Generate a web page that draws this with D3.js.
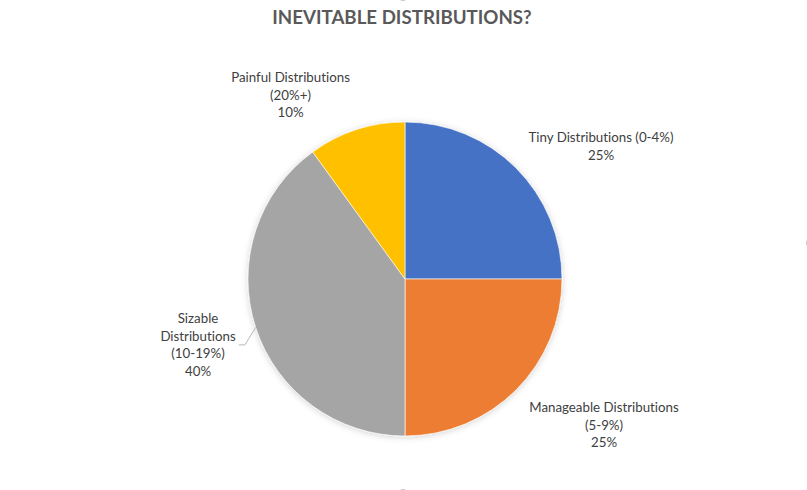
<!DOCTYPE html>
<html>
<head>
<meta charset="utf-8">
<script src="https://cdn.jsdelivr.net/npm/d3@7"></script>
<style>
  body { margin: 0; background: #fff; }
  svg { display: block; font-family: Lato, "Open Sans", sans-serif;
        font-variant-ligatures: none; font-feature-settings: "liga" 0, "clig" 0; }
</style>
</head>
<body>
<script>
// data
const categories = ["Tiny Distributions (0-4%)", "Manageable Distributions (5-9%)",
                    "Sizable Distributions (10-19%)", "Painful Distributions (20%+)"];
const shares = [25, 25, 40, 10];
const labelLines = [
  ["Tiny Distributions (0-4%)"],
  ["Manageable Distributions", "(5-9%)"],
  ["Sizable", "Distributions", "(10-19%)"],
  ["Painful Distributions", "(20%+)"]
];
const colors = ["#4472C4", "#ED7D31", "#A5A5A5", "#FFC000"];
const title = "INEVITABLE DISTRIBUTIONS?";

const width = 807, height = 490,
      cx = 405, cy = 279, radius = 157,
      lineH = 17.5,
      // label block offsets (first baseline) from the pie centre
      labelOffset = [[196, -137], [199, 133], [-207, 44], [-114.5, -197]];

const svg = d3.select("body").append("svg")
  .attr("width", width)
  .attr("height", height);

const defs = svg.append("defs");
const shadow = defs.append("filter").attr("id", "shadow")
  .attr("x", "-20%").attr("y", "-20%").attr("width", "140%").attr("height", "140%");
shadow.append("feDropShadow")
  .attr("dx", 0).attr("dy", 1)
  .attr("stdDeviation", 3)
  .attr("flood-color", "#000")
  .attr("flood-opacity", 0.18);

svg.append("text")
  .attr("x", 402)
  .attr("y", 24)
  .attr("text-anchor", "middle")
  .attr("font-size", 18.7)
  .attr("font-weight", "bold")
  .attr("fill", "#595959")
  .text(title);

const pie = d3.pie().sort(null).value((d) => d)(shares);
const arc = d3.arc().innerRadius(0).outerRadius(radius);

const g = svg.append("g").attr("transform", "translate(" + cx + "," + cy + ")");

g.append("g")
  .attr("filter", "url(#shadow)")
  .selectAll("path")
  .data(pie).enter()
  .append("path")
  .attr("d", arc)
  .attr("fill", (d, i) => colors[i])
  .attr("stroke", "#fff")
  .attr("stroke-width", 0.6);

const labels = g.selectAll(".label")
  .data(pie).enter()
  .append("text")
  .attr("class", "label")
  .attr("text-anchor", "middle")
  .attr("font-size", 13.3)
  .attr("fill", "#404040");

labels.each(function (d, i) {
  const lines = labelLines[i].concat([shares[i] + "%"]);
  const t = d3.select(this);
  lines.forEach((s, k) => {
    t.append("tspan")
      .attr("x", labelOffset[i][0])
      .attr("y", labelOffset[i][1] + k * lineH)
      .text(s);
  });
});

// leader line for the Sizable label
const si = 2,
      mid = (pie[si].startAngle + pie[si].endAngle) / 2,
      bb = labels.nodes()[si].getBBox(),
      ly = labelOffset[si][1] + lineH * 1.25,
      lx = bb.x + bb.width + 3;
g.append("polyline")
  .attr("points", [[lx, ly], [lx + 6, ly],
                   [Math.sin(mid) * radius, -Math.cos(mid) * radius]].join(" "))
  .attr("fill", "none")
  .attr("stroke", "#a6a6a6")
  .attr("stroke-width", 0.8);

// faint chart-area handles at the edges
svg.selectAll(".handle")
  .data([[403, -3], [810, 243], [403, 493]]).enter()
  .append("circle")
  .attr("cx", (d) => d[0])
  .attr("cy", (d) => d[1])
  .attr("r", 4)
  .attr("fill", "#c8c8c8");
</script>
</body>
</html>
